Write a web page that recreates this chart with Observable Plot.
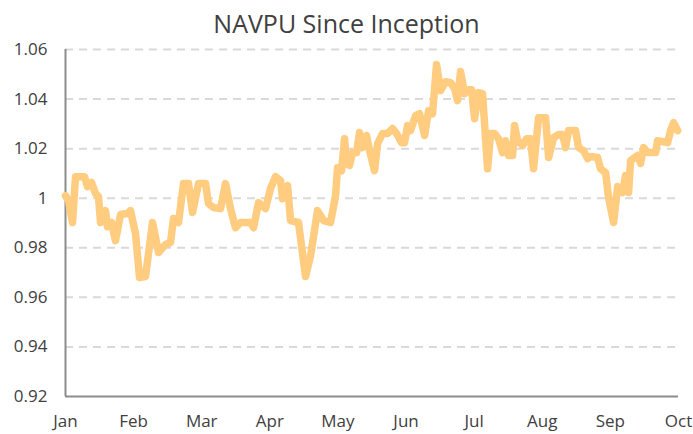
<!DOCTYPE html>
<html>
<head>
<meta charset="utf-8">
<script src="https://cdn.jsdelivr.net/npm/d3@7"></script>
<script src="https://cdn.jsdelivr.net/npm/@observablehq/plot@0.6"></script>
<style>
  html, body { margin: 0; padding: 0; background: #fff; }
  body { width: 693px; height: 434px; overflow: hidden; font-family: "Open Sans", sans-serif; }
  #title { height: 38px; line-height: 46px; text-align: center; font-size: 25px; color: #404040; white-space: nowrap; }
  #chart svg { display: block; }
</style>
</head>
<body>
<div id="title">NAVPU Since Inception</div>
<div id="chart"></div>
<script>
// Month tick labels and positions (month index from Jan = 0)
const months = ["Jan", "Feb", "Mar", "Apr", "May", "Jun", "Jul", "Aug", "Sep", "Oct"];
const monthPos = [0, 1, 2, 3, 4, 5, 6, 7, 8, 9];

// Y tick values and labels
const yTicks = [0.92, 0.94, 0.96, 0.98, 1.00, 1.02, 1.04, 1.06];
const yLabels = ["0.92", "0.94", "0.96", "0.98", "1", "1.02", "1.04", "1.06"];

// Time (in months since Jan) and NAVPU values
const t = [
  0.000, 0.044, 0.103, 0.147, 0.279, 0.323, 0.382, 0.441, 0.485, 0.514,
  0.587, 0.617, 0.675, 0.734, 0.808, 0.910, 0.954, 1.028, 1.087, 1.175,
  1.278, 1.366, 1.469, 1.542, 1.586, 1.659, 1.733, 1.806, 1.865, 1.953,
  2.056, 2.100, 2.173, 2.276, 2.349, 2.423, 2.496, 2.570, 2.717, 2.761,
  2.834, 2.937, 3.010, 3.084, 3.157, 3.186, 3.260, 3.304, 3.421, 3.524,
  3.598, 3.700, 3.789, 3.891, 3.965, 3.994, 4.053, 4.097, 4.126, 4.170,
  4.214, 4.273, 4.317, 4.361, 4.420, 4.464, 4.537, 4.582, 4.655, 4.728,
  4.802, 4.861, 4.934, 4.978, 5.022, 5.066, 5.140, 5.198, 5.272, 5.330,
  5.389, 5.448, 5.507, 5.580, 5.653, 5.712, 5.756, 5.800, 5.859, 5.918,
  5.962, 6.006, 6.065, 6.123, 6.197, 6.241, 6.300, 6.358, 6.417, 6.461,
  6.505, 6.564, 6.593, 6.637, 6.711, 6.770, 6.828, 6.872, 6.946, 7.048,
  7.093, 7.166, 7.239, 7.298, 7.342, 7.386, 7.489, 7.533, 7.606, 7.665,
  7.709, 7.812, 7.856, 7.930, 7.974, 8.047, 8.106, 8.179, 8.223, 8.267,
  8.297, 8.399, 8.443, 8.488, 8.546, 8.664, 8.693, 8.840, 8.884, 8.928,
  8.987
];
const nav = [
  1.0010, 0.9990, 0.9902, 1.0087, 1.0087, 1.0047, 1.0063, 1.0019, 1.0006, 0.9902,
  0.9950, 0.9885, 0.9902, 0.9829, 0.9934, 0.9938, 0.9950, 0.9857, 0.9680, 0.9684,
  0.9902, 0.9781, 0.9813, 0.9821, 0.9918, 0.9902, 1.0059, 1.0059, 0.9942, 1.0059,
  1.0059, 0.9978, 0.9962, 0.9958, 1.0059, 0.9958, 0.9881, 0.9902, 0.9902, 0.9881,
  0.9982, 0.9958, 1.0039, 1.0087, 1.0071, 0.9998, 1.0051, 0.9910, 0.9902, 0.9684,
  0.9768, 0.9950, 0.9910, 0.9902, 1.0010, 1.0123, 1.0111, 1.0240, 1.0140, 1.0132,
  1.0184, 1.0184, 1.0265, 1.0204, 1.0253, 1.0192, 1.0111, 1.0220, 1.0261, 1.0261,
  1.0281, 1.0261, 1.0224, 1.0224, 1.0293, 1.0273, 1.0333, 1.0341, 1.0253, 1.0353,
  1.0341, 1.0539, 1.0434, 1.0470, 1.0466, 1.0442, 1.0394, 1.0511, 1.0422, 1.0438,
  1.0438, 1.0321, 1.0426, 1.0422, 1.0119, 1.0261, 1.0261, 1.0240, 1.0184, 1.0232,
  1.0172, 1.0172, 1.0293, 1.0232, 1.0212, 1.0240, 1.0240, 1.0119, 1.0325, 1.0325,
  1.0164, 1.0244, 1.0257, 1.0257, 1.0204, 1.0273, 1.0273, 1.0204, 1.0192, 1.0160,
  1.0168, 1.0164, 1.0119, 1.0103, 1.0002, 0.9902, 1.0047, 1.0023, 1.0091, 1.0023,
  1.0152, 1.0172, 1.0140, 1.0204, 1.0184, 1.0184, 1.0232, 1.0224, 1.0273, 1.0305,
  1.0273
];

const data = t.map((x, i) => ({ t: x, nav: nav[i] }));
const gridTicks = yTicks.filter(d => d > 0.92);

const chart = Plot.plot({
  width: 693,
  height: 396,
  marginLeft: 65,
  marginRight: 15,
  marginTop: 11,
  marginBottom: 38,
  style: { fontFamily: '"Open Sans", sans-serif', fontSize: "17px", color: "#404040", background: "#fff", overflow: "visible" },
  x: { domain: [0, 9] },
  y: { domain: [0.92, 1.06] },
  marks: [
    Plot.gridY(gridTicks, { stroke: "#d9d9d9", strokeOpacity: 1, strokeWidth: 2, strokeDasharray: "8,6" }),
    Plot.ruleY([0.92], { stroke: "#8c8c8c", strokeWidth: 2 }),
    Plot.ruleX([0], { stroke: "#8c8c8c", strokeWidth: 2 }),
    Plot.axisY(yTicks, { tickSize: 0, tickPadding: 18, tickFormat: d => yLabels[yTicks.indexOf(d)], label: null }),
    Plot.axisX(monthPos, { tickSize: 0, tickPadding: 18, tickFormat: d => months[d], label: null }),
    Plot.line(data, { x: "t", y: "nav", stroke: "#ffcc80", strokeWidth: 7.5, strokeLinejoin: "round", strokeLinecap: "round" })
  ]
});
document.getElementById("chart").appendChild(chart);
</script>
</body>
</html>
